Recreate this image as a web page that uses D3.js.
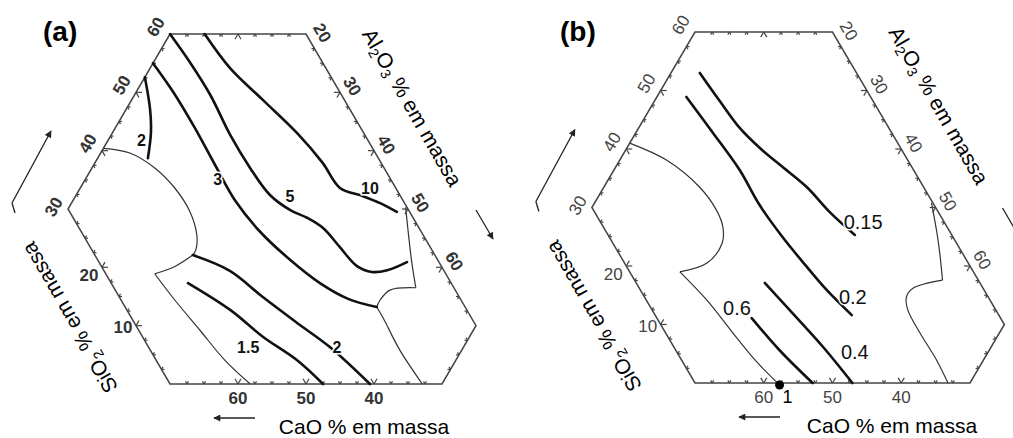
<!DOCTYPE html>
<html>
<head>
<meta charset="utf-8">
<script src="https://cdn.jsdelivr.net/npm/d3@7"></script>
<style>
body{margin:0;background:#fff;}
text{font-family:"Liberation Sans",Arial,sans-serif;}
</style>
</head>
<body>
<svg id="chart" width="1013" height="438"></svg>
<script>
// all compositions are [CaO, SiO2] in mass %, Al2O3 = 100 - CaO - SiO2
var hexagon = [[70,0],[30,0],[20,10],[20,60],[40,60],[70,30]];

var caoTicks = [60, 50, 40];
var sio2Ticks = [10, 20, 30, 40, 50, 60];
var al2o3Ticks = [20, 30, 40, 50, 60];

// panel (a) iso-lines
var a_iso2_top = [[47.4,52.6],[49.3,47.3],[51.2,43.2],[53.9,38.7]];
var a_iso3 = [[45.0,55.0],[44.5,50.1],[44.4,43.9],[44.6,37.5],[44.7,31.5],[43.7,26.1],[41.7,21.3],[39.3,17.3],[36.5,14.6],[33.0,13.2]];
var a_iso5 = [[40,60],[39.5,55.2],[39.3,49.5],[39.8,42.7],[39.7,37.0],[39.1,32.4],[37.4,29.8],[35.6,28.5],[34.1,26.7],[33.3,23.5],[32.4,20.2],[30.7,19.2],[28.3,19.5],[24.7,20.9]];
var a_iso10 = [[34.9,60],[34.1,54.2],[32.0,48.7],[29.8,43.0],[28.6,37.9],[28.2,33.6],[25.5,32.2],[23.6,31.0],[21.9,29.5]];
var a_iso2_low = [[55.6,22.1],[51.5,19.4],[48.9,14.9],[46.1,10.5],[43.3,6.3],[40.6,0]];
var a_iso15 = [[58.7,17.3],[54.8,12.7],[52.3,8.1],[49.3,4.1],[47.5,0]];
var a_labels = ["2","3","5","10","2","1.5"];
var a_labelPos = [[53.3,41.8],[45.5,35.0],[36.3,32.1],[23.8,33.6],[42.3,6.3],[55.4,6.2]];
// panel (a) phase boundaries (split at the corners)
var a_bnd1 = [[59.6,40.4],[56.1,39.6],[53.7,37.0],[52.5,33.6],[52.3,29.5],[53.3,25.5],[54.7,23.0],[55.6,22.1]];
var a_bnd2 = [[55.6,22.1],[59.1,20.2],[62.8,18.9]];
var a_bnd3 = [[62.8,18.9],[62.1,14.4],[61.0,9.3],[59.9,4.1],[58.2,0]];
var a_bnd4 = [[20.2,30.3],[21.8,26.4],[24.0,20.9],[25.6,16.5]];
var a_bnd5 = [[25.6,16.5],[29.6,16.1],[31.9,14.4],[33.0,13.2]];
var a_bnd6 = [[33.0,13.2],[33.0,11.3],[33.3,5.8],[32.9,0]];

// panel (b) iso-lines
var b_iso015 = [[42.8,53.0],[42.3,48.2],[41.7,43.6],[40.5,40.2],[39.0,37.3],[37.0,33.5],[35.8,29.2],[34.1,25.3]];
var b_iso02 = [[46.8,48.9],[46.0,42.7],[45.3,36.4],[45.4,30.5],[44.8,25.0],[43.8,19.8],[42.9,15.9],[41.4,11.6]];
var b_iso04 = [[51.3,17.1],[50.0,12.5],[48.3,6.2],[47.1,0]];
var b_iso06 = [[56.2,11.1],[54.9,5.6],[52.9,0]];
var b_labels = ["0.15","0.2","0.4","0.6"];
var b_labelPos = [[31.8,27.5],[39.7,14.7],[44.1,5.3],[57.5,12.8]];
var b_bnd1 = [[59.0,41.0],[55.1,38.1],[52.6,33.5],[52.1,29.6],[52.6,26.7],[54.1,23.9],[58.0,20.5],[62.7,19.0]];
var b_bnd2 = [[62.7,19.0],[61.2,14.2],[60.2,8.5],[59.3,3.9],[58.0,0]];
var b_bnd3 = [[20.2,30.8],[22.0,25.6],[23.3,22.2],[25.2,17.6]];
var b_bnd4 = [[25.2,17.6],[30.2,16.2],[31.9,14.7],[32.8,12.5],[33.0,8.5],[32.9,3.9],[33.2,0]];
var b_point1 = [57.7, 0];

var svg = d3.select("#chart");

svg.append("defs").append("marker")
  .attr("id","head").attr("viewBox","0 0 10 10")
  .attr("refX",9).attr("refY",5)
  .attr("markerWidth",9).attr("markerHeight",7)
  .attr("markerUnits","userSpaceOnUse")
  .attr("orient","auto")
  .append("path").attr("d","M0,0L10,5L0,10Z").attr("fill","#222");

function drawPanel(cfg){
  var g = svg.append("g");
  var x = d3.scaleLinear().domain([30,70]).range(cfg.xr);
  var y = d3.scaleLinear().domain([0,60]).range(cfg.yr);
  // ternary -> screen
  function proj(p){ return [x(100 - p[0] - p[1]/2), y(p[1])]; }
  var line = d3.line().x(function(d){return proj(d)[0];}).y(function(d){return proj(d)[1];});
  var smooth = d3.line().x(function(d){return proj(d)[0];}).y(function(d){return proj(d)[1];})
    .curve(d3.curveCatmullRom.alpha(0.5));

  // hexagon frame
  g.append("path").attr("d", line(hexagon) + "Z")
    .attr("fill","none").attr("stroke","#444").attr("stroke-width",1.5);

  // ticks along every side
  var edges = [
    {vals:d3.range(30,70.1,2.5), pt:function(t){return [t,0];}, dirs:[[0,1],[-1,1]]},
    {vals:d3.range(0,30.1,2.5), pt:function(t){return [70,t];}, dirs:[[-1,0],[-1,1]]},
    {vals:d3.range(30,60.1,2.5), pt:function(t){return [100-t,t];}, dirs:[[-1,0],[0,-1]]},
    {vals:d3.range(0,20.1,2.5), pt:function(t){return [40-t,60];}, dirs:[[0,-1],[1,-1]]},
    {vals:d3.range(20,70.1,2.5), pt:function(t){return [20,80-t];}, dirs:[[1,0],[1,-1]]},
    {vals:d3.range(0,10.1,2.5), pt:function(t){return [30-t,t];}, dirs:[[1,0],[0,1]]}
  ];
  edges.forEach(function(e){
    e.vals.slice(1,-1).forEach(function(t){
      var P = e.pt(t), p = proj(P);
      var major = (t % 10 === 0);
      e.dirs.forEach(function(d){
        var q = proj([P[0]+d[0], P[1]+d[1]]);
        var dx = q[0]-p[0], dy = q[1]-p[1], n = Math.sqrt(dx*dx+dy*dy);
        var L = major ? 6 : 3;
        g.append("line")
          .attr("x1",p[0]).attr("y1",p[1])
          .attr("x2",p[0]+L*dx/n).attr("y2",p[1]+L*dy/n)
          .attr("stroke","#444").attr("stroke-width",1.2);
      });
    });
  });

  // tick labels
  function tickText(px, py, txt, rot){
    g.append("text").attr("transform","translate("+px+","+py+") rotate("+rot+")")
      .attr("text-anchor","middle").attr("dominant-baseline","central")
      .attr("font-size",cfg.tickSize).attr("font-weight",cfg.tickWeight).attr("fill",cfg.tickFill)
      .text(txt);
  }
  caoTicks.forEach(function(v){
    var p = proj([v,0]);
    tickText(p[0], p[1]+14, v, 0);
  });
  sio2Ticks.forEach(function(v){
    if (v <= 20){
      var p = proj([70,v]);
      tickText(p[0]-13, p[1]+(v==20?8:2), v, 0);
    } else {
      var p2 = proj([100-v,v]);
      tickText(p2[0]-14, p2[1]+(v==30?-2:-7), v, -60);
    }
  });
  al2o3Ticks.forEach(function(v){
    var p = proj([20,80-v]);
    tickText(p[0]+(v==20?16:12), p[1]+(v==20?-1:-6), v, 60);
  });

  // phase boundaries (thin)
  cfg.bounds.forEach(function(b){
    g.append("path").attr("d", smooth(b))
      .attr("fill","none").attr("stroke","#333").attr("stroke-width",1.2);
  });
  // iso-lines (thick)
  cfg.isos.forEach(function(c){
    g.append("path").attr("d", smooth(c))
      .attr("fill","none").attr("stroke","#111").attr("stroke-width",2.6)
      .attr("stroke-linecap","round");
  });
  cfg.labels.forEach(function(t,i){
    var p = proj(cfg.labelPos[i]);
    g.append("text").attr("x",p[0]).attr("y",p[1])
      .attr("text-anchor","middle").attr("dominant-baseline","central")
      .attr("font-size",cfg.labelSize).attr("font-weight",cfg.labelWeight)
      .attr("fill","#111")
      .attr("stroke","#fff").attr("stroke-width",3).attr("paint-order","stroke")
      .text(t);
  });
  if (cfg.point){
    var pp = proj(cfg.point);
    g.append("circle").attr("cx",pp[0]).attr("cy",pp[1]+2).attr("r",4.5).attr("fill","#000");
    g.append("text").attr("x",pp[0]+8).attr("y",pp[1]+20)
      .attr("text-anchor","middle").attr("font-size",18).attr("fill","#000").text("1");
  }

  // corners used to place titles and arrows
  var vTR = proj([20,60]), vL = proj([70,30]), vBL = proj([70,0]), vBR = proj([30,0]);

  // axis titles
  function title(px, py, rot, parts){
    var t = g.append("text").attr("transform","translate("+px+","+py+") rotate("+rot+")")
      .attr("text-anchor","middle").attr("font-size",21).attr("fill","#000");
    parts.forEach(function(s){
      if (s.sub) t.append("tspan").attr("font-size",14).attr("dy",4).text(s.t);
      else t.append("tspan").attr("dy",s.up ? -4 : 0).text(s.t);
    });
  }
  title(vTR[0]+100, vTR[1]+77, 60,
    [{t:"Al"},{t:"2",sub:true},{t:"O",up:true},{t:"3",sub:true},{t:" % em massa",up:true}]);
  title(vL[0]+8, vL[1]+105, -120,
    [{t:"SiO"},{t:"2",sub:true},{t:" % em massa",up:true}]);
  title(vBR[0]-78, vBR[1]+50, 0, [{t:"CaO % em massa"}]);

  // direction arrows
  function arrow(x1,y1,x2,y2){
    g.append("line").attr("x1",x1).attr("y1",y1).attr("x2",x2).attr("y2",y2)
      .attr("stroke","#222").attr("stroke-width",1.3).attr("marker-end","url(#head)");
  }
  arrow(vL[0]-56, vL[1]-6, vL[0]-17, vL[1]-78);
  g.append("line").attr("x1",vL[0]-56).attr("y1",vL[1]-6).attr("x2",vL[0]-53).attr("y2",vL[1]+4)
    .attr("stroke","#222").attr("stroke-width",1.3);
  arrow(vTR[0]+170, vTR[1]+176, vTR[0]+187, vTR[1]+205);
  arrow(vBL[0]+85, vBL[1]+34, vBL[0]+44, vBL[1]+34);

  // panel letter
  g.append("text").attr("x",cfg.letterX).attr("y",41)
    .attr("font-size",28).attr("font-weight","bold").attr("fill","#000").text(cfg.name);
}

drawPanel({
  name:"(a)", letterX:43, xr:[170,442], yr:[384,34],
  tickSize:17, tickWeight:"bold", tickFill:"#333",
  isos:[a_iso2_top, a_iso3, a_iso5, a_iso10, a_iso2_low, a_iso15],
  bounds:[a_bnd1, a_bnd2, a_bnd3, a_bnd4, a_bnd5, a_bnd6],
  labels:a_labels, labelPos:a_labelPos, labelSize:16, labelWeight:"bold"
});
drawPanel({
  name:"(b)", letterX:560, xr:[695,970], yr:[383,32],
  tickSize:17, tickWeight:"normal", tickFill:"#444",
  isos:[b_iso015, b_iso02, b_iso04, b_iso06],
  bounds:[b_bnd1, b_bnd2, b_bnd3, b_bnd4],
  labels:b_labels, labelPos:b_labelPos, labelSize:20, labelWeight:"normal",
  point:b_point1
});
</script>
</body>
</html>
